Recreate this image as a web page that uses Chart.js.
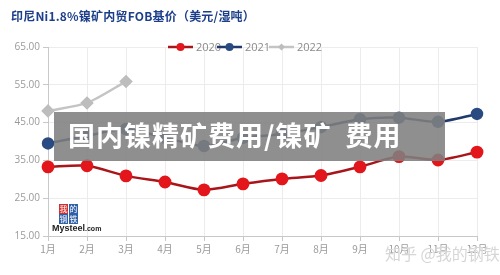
<!DOCTYPE html>
<html><head><meta charset="utf-8">
<script src="https://cdn.jsdelivr.net/npm/chart.js@4/dist/chart.umd.min.js"></script>
<style>
html,body{margin:0;padding:0;background:#fff;}
#wrap{position:relative;width:500px;height:275px;overflow:hidden;font-family:"Noto Sans CJK SC","Noto Sans",sans-serif;}
canvas{position:absolute;left:0;top:0;}
#title{position:absolute;left:11px;top:7px;font-size:12px;font-weight:bold;color:#1d3f8a;white-space:nowrap;letter-spacing:0.2px;}
#banner{position:absolute;left:54px;top:112px;width:391px;height:49px;background:rgba(128,128,128,0.88);}
#banner span.t{position:absolute;left:14px;top:3px;font-size:27px;letter-spacing:1px;font-weight:bold;color:#fff;white-space:nowrap;line-height:40px;}
#logo{position:absolute;left:52px;top:203px;width:60px;height:32px;}
#logo .b{position:absolute;width:9px;height:10px;font-size:8px;line-height:10px;color:#fff;text-align:center;}
#logo .m{position:absolute;left:0;top:20px;font-size:9px;font-weight:bold;color:#222;font-family:"Liberation Sans",sans-serif;white-space:nowrap;}
#zh{position:absolute;left:385px;top:241px;font-size:16px;color:rgba(210,210,210,0.9);white-space:nowrap;text-shadow:0 0 1px #fff;}
</style></head>
<body><div id="wrap">
<canvas id="c" width="500" height="275"></canvas>
<div id="title">印尼Ni1.8%镍矿内贸FOB基价（美元/湿吨）</div>
<div id="logo">
 <div class="b" style="left:7px;top:1px;background:#d0302f;">我</div>
 <div class="b" style="left:17px;top:1px;background:#2f5fa6;">的</div>
 <div class="b" style="left:7px;top:11px;background:#2f5fa6;">钢</div>
 <div class="b" style="left:17px;top:11px;background:#2f5fa6;">铁</div>
 <div class="m">Mysteel<span style="font-size:7px;">.com</span></div>
</div>
<div id="banner"><span class="t">国内镍精矿费用/镍矿<span style="display:inline-block;width:14px;"></span>费用</span></div>
<div id="zh">知乎 @我的钢铁</div>
</div>
<script>
const categories = ["1月","2月","3月","4月","5月","6月","7月","8月","9月","10月","11月","12月"];
const seriesNames = ["2020","2021","2022"];
const values2020 = [33.3,33.6,30.9,29.3,27.2,28.8,30.1,31.0,33.3,36.0,35.1,37.2];
const values2021 = [39.5,41.5,43.3,41.0,38.8,41.0,42.0,43.8,45.9,46.3,45.2,47.3];
const values2022 = [48.1,50.2,55.9];
const yTicks = [15,25,35,45,55,65];

const lineColors = ["#a8151a","#1f3a6b","#c4c4c4"];
const pointColors = ["#e3161b","#2a4a82","#bdbdbd"];

const legendPlugin = {
  id:'customLegend',
  afterDraw(chart){
    const ctx = chart.ctx;
    const items = [{x:168,t:196},{x:217,t:245},{x:269,t:297}];
    ctx.save();
    chart.data.datasets.forEach((ds,i)=>{
      const it = items[i], y = 47;
      ctx.strokeStyle = ds.borderColor; ctx.lineWidth = 2.5;
      ctx.beginPath(); ctx.moveTo(it.x,y); ctx.lineTo(it.x+25,y); ctx.stroke();
      ctx.fillStyle = ds.pointBackgroundColor;
      const cx = it.x+12.5;
      if (ds.pointStyle==='rectRot'){
        ctx.beginPath(); ctx.moveTo(cx,y-3.5); ctx.lineTo(cx+3.5,y); ctx.lineTo(cx,y+3.5); ctx.lineTo(cx-3.5,y); ctx.closePath(); ctx.fill();
      } else {
        ctx.beginPath(); ctx.arc(cx,y,4,0,Math.PI*2); ctx.fill();
      }
      ctx.fillStyle = '#8a8a8a'; ctx.font = '11px "Open Sans", sans-serif';
      ctx.textBaseline = 'middle'; ctx.textAlign='left';
      ctx.fillText(ds.label, it.t, y+1);
    });
    ctx.restore();
  }
};

const mk = (label, data, i, ps, r) => ({
  label, data, borderColor: lineColors[i], backgroundColor: pointColors[i],
  pointBackgroundColor: pointColors[i], pointBorderColor: pointColors[i],
  pointStyle: ps, pointRadius: r, pointHoverRadius: r, borderWidth: 2.5, tension: 0.25, fill:false
});

new Chart(document.getElementById('c'), {
  type:'line',
  data:{
    labels: categories,
    datasets:[
      mk(seriesNames[0], values2020, 0, 'circle', 5.2),
      mk(seriesNames[1], values2021, 1, 'circle', 5),
      mk(seriesNames[2], values2022, 2, 'rectRot', 5)
    ]
  },
  options:{
    responsive:false, animation:false, devicePixelRatio:1,
    layout:{padding:{left:0,right:23,top:47,bottom:0}},
    plugins:{legend:{display:false},tooltip:{enabled:false},title:{display:false}},
    scales:{
      x:{
        offset:false,
        grid:{color:'#ececec',tickLength:5,drawTicks:true,tickColor:'#c8c8c8'},
        border:{color:'#c8c8c8',width:1},
        ticks:{color:'#9a9a9a',font:{size:10,family:'"Noto Sans CJK SC"'},padding:2,maxRotation:0,autoSkip:false},
        afterFit(s){ s.height = 39; }
      },
      y:{
        min:15,max:65,
        afterBuildTicks(s){ s.ticks = yTicks.map(v=>({value:v})); },
        grid:{color:'#ececec',tickLength:5,drawTicks:true,tickColor:'#c8c8c8'},
        border:{color:'#c8c8c8',width:1},
        ticks:{color:'#9a9a9a',font:{size:10,family:'"Open Sans"'},padding:3,callback:v=>Number(v).toFixed(2)},
        afterFit(s){ s.width = 48; }
      }
    }
  },
  plugins:[legendPlugin]
});
</script>
</body></html>
